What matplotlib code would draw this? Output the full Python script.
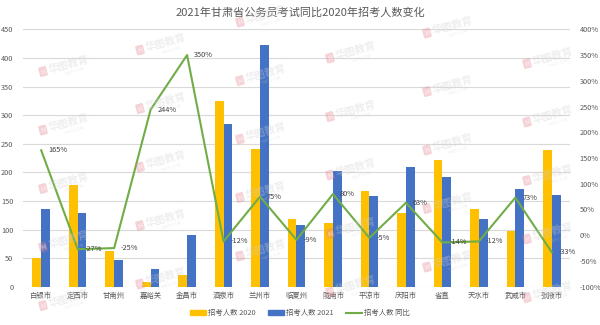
import numpy as np
import matplotlib
matplotlib.use('Agg')
import matplotlib.pyplot as plt
from matplotlib.lines import Line2D
from matplotlib.patches import Patch

plt.rcParams['font.family'] = ['Noto Sans CJK SC', 'DejaVu Sans']

# 各地市招考人数
cities = ['白银市', '定西市', '甘南州', '嘉峪关', '金昌市', '酒泉市', '兰州市', '临夏州',
          '陇南市', '平凉市', '庆阳市', '省直', '天水市', '武威市', '张掖市']
num_2020 = [50, 177, 63, 9, 20, 325, 241, 119, 112, 167, 129, 222, 135, 98, 239]
num_2021 = [135, 129, 47, 31, 90, 285, 422, 108, 202, 158, 210, 192, 119, 170, 160]
yoy_pct = [165, -27, -25, 244, 350, -12, 75, -9, 80, -5, 63, -14, -12, 73, -33]

c2020 = '#FFC000'
c2021 = '#4472C4'
cyoy = '#70AD47'
txt = '#595959'

fig = plt.figure(figsize=(6, 3.25), dpi=100)
ax = fig.add_axes([0.0383, 0.1178, 0.9117, 0.792])
ax2 = ax.twinx()

x = np.arange(len(cities))
w = 0.24
ax.bar(x - w / 2, num_2020, w, color=c2020, zorder=2)
ax.bar(x + w / 2, num_2021, w, color=c2021, zorder=2)

ax.set_xlim(-0.5, len(cities) - 0.5)
ax.set_ylim(0, 450)
ax.set_yticks(np.arange(0, 451, 50))
ax.grid(axis='y', color='#d9d9d9', linewidth=0.8, zorder=0)
ax.set_xticks(x)
ax.set_xticklabels(cities)
ax.tick_params(axis='x', length=0, pad=4, labelsize=5.3, labelcolor=txt)
ax.tick_params(axis='y', length=0, pad=7, labelsize=5.3, labelcolor=txt)
for s in ax.spines.values():
    s.set_visible(False)

# 同比折线（右轴）
ax2.plot(x, yoy_pct, color=cyoy, linewidth=1.5, zorder=3)
ax2.set_ylim(-100, 400)
ax2.set_yticks(np.arange(-100, 401, 50))
ax2.set_yticklabels([f'{v}%' for v in range(-100, 401, 50)])
ax2.tick_params(axis='y', length=0, pad=7, labelsize=5.3, labelcolor=txt)
for s in ax2.spines.values():
    s.set_visible(False)
for xi, v in zip(x, yoy_pct):
    ax2.annotate(f'{v}%', (xi, v), xytext=(5, 0), textcoords='offset points',
                 ha='left', va='center', fontsize=5.3, color='#404040', zorder=4)

fig.text(0.5, 0.962, '2021年甘肃省公务员考试同比2020年招考人数变化',
         ha='center', va='center', fontsize=8, color=txt)

handles = [Patch(color=c2020, label='招考人数 2020'),
           Patch(color=c2021, label='招考人数 2021'),
           Line2D([0], [0], color=cyoy, lw=1.5, label='招考人数 同比')]
fig.legend(handles=handles, loc='center', bbox_to_anchor=(0.5, 0.037), ncol=3,
           frameon=False, fontsize=5.3, labelcolor=txt, handlelength=2.2,
           handleheight=0.6, columnspacing=1.6, handletextpad=0.3)

# 水印
ang = 15
ca, sa = np.cos(np.radians(ang)), np.sin(np.radians(ang))
col_x = [43, 140, 240, 330, 427, 527]
col_y0 = [13, 50, 22, 58, 33, 5]
for cx, y0 in zip(col_x, col_y0):
    for k in range(-1, 7):
        py = y0 + 58.5 * k
        if py < 18 or py > 312:
            continue
        lx, ly = cx / 100, (325 - py) / 100
        fig.text(lx, ly, 'H', transform=fig.dpi_scale_trans, rotation=ang,
                 ha='center', va='center', fontsize=5, fontweight='bold', color='white',
                 alpha=0.5, zorder=10,
                 bbox=dict(boxstyle='round,pad=0.2', fc='#e07f8c', ec='none', alpha=0.35))
        tx, ty = lx + 0.27 * ca, ly + 0.27 * sa
        fig.text(tx, ty, '华图教育', transform=fig.dpi_scale_trans, rotation=ang,
                 ha='center', va='center', fontsize=7.5, fontweight='bold',
                 color='#d0d0d0', alpha=0.35, zorder=10)
        fig.text(tx + 0.08 * sa + 0.03 * ca, ty - 0.08 * ca + 0.03 * sa, 'HUATU.COM',
                 transform=fig.dpi_scale_trans, rotation=ang, ha='center', va='center',
                 fontsize=2.5, color='#d0d0d0', alpha=0.4, zorder=10)

fig.savefig('out.png', dpi=100)
